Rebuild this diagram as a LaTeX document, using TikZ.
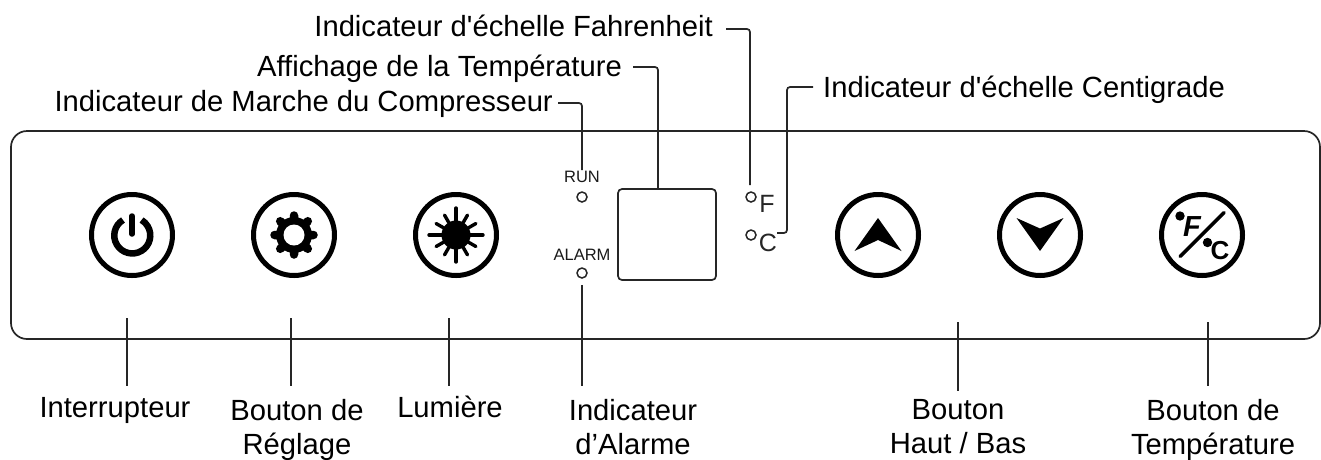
\documentclass[tikz,border=0pt]{standalone}
\usepackage{fontspec}
\setmainfont{Liberation Sans}
\usetikzlibrary{calc}

\tikzset{
    txt/.style={font=\fontsize{29.2}{34}\selectfont, inner sep=5pt, align=center, text=black},
    lead/.style={draw=black!85, line width=1.7pt, rounded corners=3pt},
    btn/.style={draw=black, line width=5pt, circle, minimum size=81pt, inner sep=0pt},
    led/.style={draw=black!85, line width=1.5pt, circle, minimum size=10pt, inner sep=0pt},
    tiny/.style={font=\fontsize{16.5}{18}\selectfont, inner sep=1pt, text=black!90},
    unit/.style={font=\fontsize{25}{28}\selectfont, inner sep=0pt, text=black!85},
}

\begin{document}
\begin{tikzpicture}[x=1pt, y=-1pt]
    \useasboundingbox (0,0) rectangle (1321,459);

    % panel and display
    \node[draw=black!85, line width=1.7pt, rounded corners=16pt, minimum width=1309pt, minimum height=208pt, inner sep=0pt] (panel) at (665.5,235) {};
    \node[draw=black!85, line width=1.7pt, rounded corners=4pt, minimum width=98pt, minimum height=91pt, inner sep=0pt] (display) at (667,234.5) {};

    % buttons
    \node[btn] (power) at (132,235) {};
    \node[btn] (gear) at (294,235) {};
    \node[btn] (light) at (456,235) {};
    \node[btn] (up) at (878,235) {};
    \node[btn] (down) at (1040,235) {};
    \node[btn] (scale) at (1202,235) {};

    % power icon
    \draw[line width=6.5pt] ($(power)+(-9,-15)$) arc (239:-59:18);
    \draw[line width=5.5pt, line cap=round] (132,216) -- (132,234);

    % gear icon
    \begin{scope}[shift={(gear)}]
        \fill (0,0) circle(18);
        \draw[line width=8.5pt, line cap=round] (0:15) -- (0:19.5) (45:15) -- (45:19.5) (90:15) -- (90:19.5) (135:15) -- (135:19.5)
        (180:15) -- (180:19.5) (225:15) -- (225:19.5) (270:15) -- (270:19.5) (315:15) -- (315:19.5);
        \fill[white] (0,0) circle(10.5);
    \end{scope}

    % light icon
    \begin{scope}[shift={(light)}]
        \fill (0,0) circle(14.5);
        \draw[line width=3.4pt, line cap=round] (0:10) -- (0:27) (90:10) -- (90:27) (180:10) -- (180:27) (270:10) -- (270:27);
        \draw[line width=3.4pt, line cap=round] (30:10) -- (30:23) (60:10) -- (60:23) (120:10) -- (120:23) (150:10) -- (150:23)
        (210:10) -- (210:23) (240:10) -- (240:23) (300:10) -- (300:23) (330:10) -- (330:23);
    \end{scope}

    % arrow icons
    \fill (878,218) -- (901.5,251) -- (878,240) -- (854.5,251) -- cycle;
    \fill (1040,251) -- (1063.5,218) -- (1040,228.5) -- (1016.5,218) -- cycle;

    % degree icon
    \draw[line width=3.5pt, line cap=round] (1224,212.5) -- (1180,256.5);
    \fill (1180,216) circle(4.7);
    \fill (1207.5,242.5) circle(4.7);
    \node[font=\fontsize{29}{30}\selectfont\bfseries\itshape, inner sep=0pt] (scaleF) at (1192,227) {F};
    \node[font=\fontsize{26}{30}\selectfont\bfseries, inner sep=0pt] (scaleC) at (1220,251) {C};

    % leds
    \node[led] (ledRun) at (582,197) {};
    \node[led] (ledAlarm) at (582,273) {};
    \node[led] (ledF) at (751,197) {};
    \node[led] (ledC) at (751,235) {};
    \node[tiny] (textRun) at (582,177) {RUN};
    \node[tiny] (textAlarm) at (582,255) {ALARM};
    \node[unit] (textF) at (767,204) {F};
    \node[unit] (textC) at (768,243) {C};

    % top labels
    \node[txt, anchor=base east] (lblRun) at (558,111) {Indicateur de Marche du Compresseur};
    \node[txt, anchor=base east] (lblDisplay) at (627,76) {Affichage de la Temp\'erature};
    \node[txt, anchor=base east] (lblF) at (718,36) {Indicateur d\textquotesingle\'echelle Fahrenheit};
    \node[txt, anchor=base west] (lblC) at (818,97) {Indicateur d\textquotesingle\'echelle Centigrade};

    % bottom labels
    \node[txt, anchor=north, inner ysep=11pt] (lblPower) at (115,386) {Interrupteur};
    \node[txt, anchor=north, inner ysep=13pt] (lblGear) at (297,386) {Bouton de\\R\'eglage};
    \node[txt, anchor=north, inner ysep=10pt] (lblLight) at (450,386) {Lumi\`ere};
    \node[txt, anchor=north, inner ysep=13pt] (lblAlarm) at (633,386) {Indicateur\\d’Alarme};
    \node[txt, anchor=north, inner ysep=8pt] (lblArrows) at (958,391) {Bouton\\Haut / Bas};
    \node[txt, anchor=north, inner ysep=13pt] (lblScale) at (1213,386) {Bouton de\\Temp\'erature};

    % top leads
    \coordinate (cornerRun) at (582,103);
    \coordinate (cornerDisplay) at (658,67);
    \coordinate (cornerF) at (750,29);
    \coordinate (cornerC) at (787,87);
    \coordinate (endF) at (750,185);
    \coordinate (endC) at (777,233);
    \coordinate (startRun) at (558,103);
    \coordinate (startDisplay) at (633,67);
    \coordinate (startF) at (726,29);
    \coordinate (startC) at (813,87);
    \draw[lead] (startRun) -- (cornerRun) -- (cornerRun |- textRun.north);
    \draw[lead] (startDisplay) -- (cornerDisplay) -- (cornerDisplay |- display.north);
    \draw[lead] (startF) -- (cornerF) -- (endF);
    \draw[lead] (startC) -- (cornerC) -- (cornerC |- endC) -- (endC);

    % bottom leads
    \coordinate (tipPower) at (127,318);
    \coordinate (tipGear) at (291,318);
    \coordinate (tipLight) at (449,318);
    \coordinate (tipArrows) at (958,322);
    \coordinate (tipScale) at (1208,322);
    \draw[lead] (tipPower) -- (tipPower |- lblPower.north);
    \draw[lead] (tipGear) -- (tipGear |- lblGear.north);
    \draw[lead] (tipLight) -- (tipLight |- lblLight.north);
    \draw[lead] (ledAlarm.south) ++(0,6) -- (ledAlarm.south |- lblAlarm.north);
    \draw[lead] (tipArrows) -- (tipArrows |- lblArrows.north);
    \draw[lead] (tipScale) -- (tipScale |- lblScale.north);
\end{tikzpicture}
\end{document}
